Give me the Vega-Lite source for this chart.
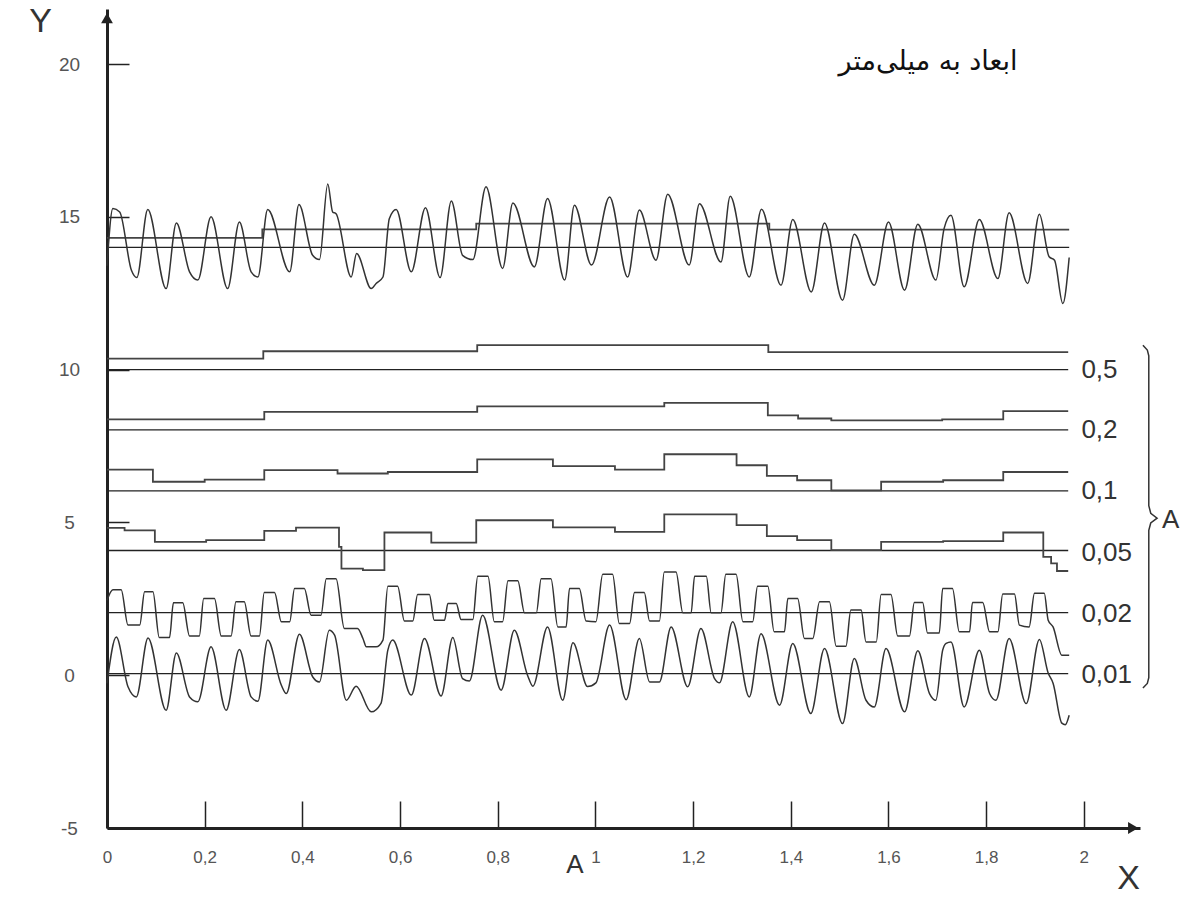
{
  "$schema": "https://vega.github.io/schema/vega-lite/v6.json",
  "width": 1033,
  "height": 819,
  "autosize": {"type": "none"},
  "padding": {"left": 107, "top": 9, "right": 50, "bottom": 84},
  "background": "white",
  "config": {"view": {"stroke": null}, "font": "Liberation Sans"},
  "datasets": {
    "refs": [
      {"s": "r0", "x": 0, "y": 14.0}, {"s": "r0", "x": 1.97, "y": 14.0},
      {"s": "r1", "x": 0, "y": 10.0}, {"s": "r1", "x": 1.968, "y": 10.0},
      {"s": "r2", "x": 0, "y": 8.03}, {"s": "r2", "x": 1.968, "y": 8.03},
      {"s": "r3", "x": 0, "y": 6.03}, {"s": "r3", "x": 1.968, "y": 6.03},
      {"s": "r4", "x": 0, "y": 4.08}, {"s": "r4", "x": 1.968, "y": 4.08},
      {"s": "r5", "x": 0, "y": 2.05}, {"s": "r5", "x": 1.968, "y": 2.05},
      {"s": "r6", "x": 0, "y": 0.05}, {"s": "r6", "x": 1.968, "y": 0.05}
    ],
    "steps": [
      {"s": "t", "x": 0, "y": 14.31}, {"s": "t", "x": 0.318, "y": 14.59}, {"s": "t", "x": 0.756, "y": 14.78}, {"s": "t", "x": 1.356, "y": 14.58}, {"s": "t", "x": 1.97, "y": 14.58},
      {"s": "p5", "x": 0, "y": 10.36}, {"s": "p5", "x": 0.32, "y": 10.6}, {"s": "p5", "x": 0.758, "y": 10.8}, {"s": "p5", "x": 1.354, "y": 10.57}, {"s": "p5", "x": 1.968, "y": 10.57},
      {"s": "p2", "x": 0, "y": 8.37}, {"s": "p2", "x": 0.322, "y": 8.62}, {"s": "p2", "x": 0.758, "y": 8.8}, {"s": "p2", "x": 1.141, "y": 8.91}, {"s": "p2", "x": 1.353, "y": 8.5}, {"s": "p2", "x": 1.415, "y": 8.4}, {"s": "p2", "x": 1.483, "y": 8.34}, {"s": "p2", "x": 1.71, "y": 8.37}, {"s": "p2", "x": 1.835, "y": 8.64}, {"s": "p2", "x": 1.968, "y": 8.64},
      {"s": "p1", "x": 0, "y": 6.73}, {"s": "p1", "x": 0.094, "y": 6.33}, {"s": "p1", "x": 0.2, "y": 6.4}, {"s": "p1", "x": 0.322, "y": 6.71}, {"s": "p1", "x": 0.472, "y": 6.6}, {"s": "p1", "x": 0.575, "y": 6.65}, {"s": "p1", "x": 0.758, "y": 7.06}, {"s": "p1", "x": 0.913, "y": 6.84}, {"s": "p1", "x": 1.04, "y": 6.73}, {"s": "p1", "x": 1.141, "y": 7.23}, {"s": "p1", "x": 1.289, "y": 6.87}, {"s": "p1", "x": 1.351, "y": 6.52}, {"s": "p1", "x": 1.413, "y": 6.38}, {"s": "p1", "x": 1.483, "y": 6.05}, {"s": "p1", "x": 1.585, "y": 6.33}, {"s": "p1", "x": 1.712, "y": 6.38}, {"s": "p1", "x": 1.835, "y": 6.65}, {"s": "p1", "x": 1.968, "y": 6.65},
      {"s": "p05", "x": 0, "y": 4.82}, {"s": "p05", "x": 0.036, "y": 4.74}, {"s": "p05", "x": 0.098, "y": 4.36}, {"s": "p05", "x": 0.203, "y": 4.42}, {"s": "p05", "x": 0.322, "y": 4.72}, {"s": "p05", "x": 0.387, "y": 4.83}, {"s": "p05", "x": 0.475, "y": 4.2}, {"s": "p05", "x": 0.48, "y": 3.49}, {"s": "p05", "x": 0.524, "y": 3.44}, {"s": "p05", "x": 0.568, "y": 4.67}, {"s": "p05", "x": 0.664, "y": 4.34}, {"s": "p05", "x": 0.756, "y": 5.07}, {"s": "p05", "x": 0.913, "y": 4.84}, {"s": "p05", "x": 1.04, "y": 4.69}, {"s": "p05", "x": 1.141, "y": 5.26}, {"s": "p05", "x": 1.289, "y": 4.91}, {"s": "p05", "x": 1.351, "y": 4.55}, {"s": "p05", "x": 1.413, "y": 4.42}, {"s": "p05", "x": 1.483, "y": 4.09}, {"s": "p05", "x": 1.585, "y": 4.36}, {"s": "p05", "x": 1.712, "y": 4.39}, {"s": "p05", "x": 1.835, "y": 4.67}, {"s": "p05", "x": 1.917, "y": 3.87}, {"s": "p05", "x": 1.933, "y": 3.66}, {"s": "p05", "x": 1.945, "y": 3.41}, {"s": "p05", "x": 1.968, "y": 3.41}
    ],
    "waves": [
      {"s": "raw", "x": 0.0, "y": 13.4}, {"s": "raw", "x": 0.012, "y": 15.27}, {"s": "raw", "x": 0.026, "y": 15.16}, {"s": "raw", "x": 0.05, "y": 13.25}, {"s": "raw", "x": 0.061, "y": 13.01}, {"s": "raw", "x": 0.0835, "y": 15.24}, {"s": "raw", "x": 0.121, "y": 12.65}, {"s": "raw", "x": 0.142, "y": 14.8}, {"s": "raw", "x": 0.169, "y": 13.2}, {"s": "raw", "x": 0.186, "y": 12.93}, {"s": "raw", "x": 0.213, "y": 15.0}, {"s": "raw", "x": 0.247, "y": 12.65}, {"s": "raw", "x": 0.271, "y": 14.83}, {"s": "raw", "x": 0.295, "y": 13.2}, {"s": "raw", "x": 0.309, "y": 13.03}, {"s": "raw", "x": 0.329, "y": 15.24}, {"s": "raw", "x": 0.374, "y": 13.2}, {"s": "raw", "x": 0.393, "y": 15.4}, {"s": "raw", "x": 0.421, "y": 13.74}, {"s": "raw", "x": 0.435, "y": 13.6}, {"s": "raw", "x": 0.452, "y": 16.07}, {"s": "raw", "x": 0.462, "y": 15.16}, {"s": "raw", "x": 0.469, "y": 15.1}, {"s": "raw", "x": 0.5, "y": 13.03}, {"s": "raw", "x": 0.511, "y": 13.8}, {"s": "raw", "x": 0.541, "y": 12.65}, {"s": "raw", "x": 0.551, "y": 12.82}, {"s": "raw", "x": 0.565, "y": 13.03}, {"s": "raw", "x": 0.578, "y": 14.94}, {"s": "raw", "x": 0.592, "y": 15.24}, {"s": "raw", "x": 0.623, "y": 13.2}, {"s": "raw", "x": 0.652, "y": 15.3}, {"s": "raw", "x": 0.682, "y": 13.01}, {"s": "raw", "x": 0.705, "y": 15.52}, {"s": "raw", "x": 0.728, "y": 13.74}, {"s": "raw", "x": 0.749, "y": 13.6}, {"s": "raw", "x": 0.776, "y": 15.98}, {"s": "raw", "x": 0.81, "y": 13.31}, {"s": "raw", "x": 0.831, "y": 15.45}, {"s": "raw", "x": 0.875, "y": 13.36}, {"s": "raw", "x": 0.902, "y": 15.6}, {"s": "raw", "x": 0.937, "y": 12.93}, {"s": "raw", "x": 0.957, "y": 15.38}, {"s": "raw", "x": 0.992, "y": 13.42}, {"s": "raw", "x": 1.029, "y": 15.65}, {"s": "raw", "x": 1.066, "y": 13.03}, {"s": "raw", "x": 1.09, "y": 15.22}, {"s": "raw", "x": 1.124, "y": 13.58}, {"s": "raw", "x": 1.148, "y": 15.74}, {"s": "raw", "x": 1.192, "y": 13.42}, {"s": "raw", "x": 1.213, "y": 15.43}, {"s": "raw", "x": 1.257, "y": 13.52}, {"s": "raw", "x": 1.276, "y": 15.67}, {"s": "raw", "x": 1.315, "y": 13.03}, {"s": "raw", "x": 1.34, "y": 15.25}, {"s": "raw", "x": 1.38, "y": 12.76}, {"s": "raw", "x": 1.404, "y": 14.91}, {"s": "raw", "x": 1.442, "y": 12.54}, {"s": "raw", "x": 1.469, "y": 14.8}, {"s": "raw", "x": 1.506, "y": 12.27}, {"s": "raw", "x": 1.53, "y": 14.43}, {"s": "raw", "x": 1.571, "y": 12.76}, {"s": "raw", "x": 1.6, "y": 14.83}, {"s": "raw", "x": 1.633, "y": 12.6}, {"s": "raw", "x": 1.66, "y": 14.76}, {"s": "raw", "x": 1.697, "y": 12.93}, {"s": "raw", "x": 1.714, "y": 14.62}, {"s": "raw", "x": 1.728, "y": 15.05}, {"s": "raw", "x": 1.755, "y": 12.71}, {"s": "raw", "x": 1.786, "y": 14.91}, {"s": "raw", "x": 1.824, "y": 12.98}, {"s": "raw", "x": 1.847, "y": 15.13}, {"s": "raw", "x": 1.885, "y": 12.82}, {"s": "raw", "x": 1.909, "y": 15.08}, {"s": "raw", "x": 1.929, "y": 13.69}, {"s": "raw", "x": 1.94, "y": 13.58}, {"s": "raw", "x": 1.957, "y": 12.16}, {"s": "raw", "x": 1.97, "y": 13.67},
      {"s": "f001", "x": 0.0, "y": -0.27}, {"s": "f001", "x": 0.019, "y": 1.25}, {"s": "f001", "x": 0.043, "y": -0.38}, {"s": "f001", "x": 0.06, "y": -0.71}, {"s": "f001", "x": 0.084, "y": 1.22}, {"s": "f001", "x": 0.121, "y": -1.15}, {"s": "f001", "x": 0.142, "y": 0.73}, {"s": "f001", "x": 0.169, "y": -0.71}, {"s": "f001", "x": 0.186, "y": -0.87}, {"s": "f001", "x": 0.213, "y": 0.93}, {"s": "f001", "x": 0.244, "y": -1.15}, {"s": "f001", "x": 0.271, "y": 0.84}, {"s": "f001", "x": 0.295, "y": -0.71}, {"s": "f001", "x": 0.309, "y": -0.85}, {"s": "f001", "x": 0.329, "y": 1.15}, {"s": "f001", "x": 0.357, "y": -0.33}, {"s": "f001", "x": 0.367, "y": -0.6}, {"s": "f001", "x": 0.394, "y": 1.34}, {"s": "f001", "x": 0.421, "y": -0.05}, {"s": "f001", "x": 0.435, "y": -0.22}, {"s": "f001", "x": 0.455, "y": 1.47}, {"s": "f001", "x": 0.466, "y": 1.31}, {"s": "f001", "x": 0.49, "y": -0.82}, {"s": "f001", "x": 0.51, "y": -0.36}, {"s": "f001", "x": 0.541, "y": -1.2}, {"s": "f001", "x": 0.561, "y": -0.92}, {"s": "f001", "x": 0.575, "y": 0.82}, {"s": "f001", "x": 0.585, "y": 1.15}, {"s": "f001", "x": 0.623, "y": -0.65}, {"s": "f001", "x": 0.65, "y": 1.2}, {"s": "f001", "x": 0.684, "y": -0.68}, {"s": "f001", "x": 0.708, "y": 1.23}, {"s": "f001", "x": 0.728, "y": -0.11}, {"s": "f001", "x": 0.742, "y": -0.19}, {"s": "f001", "x": 0.769, "y": 1.96}, {"s": "f001", "x": 0.807, "y": -0.49}, {"s": "f001", "x": 0.834, "y": 1.47}, {"s": "f001", "x": 0.861, "y": 0.0}, {"s": "f001", "x": 0.872, "y": -0.36}, {"s": "f001", "x": 0.902, "y": 1.58}, {"s": "f001", "x": 0.933, "y": -0.82}, {"s": "f001", "x": 0.954, "y": 1.06}, {"s": "f001", "x": 0.984, "y": -0.37}, {"s": "f001", "x": 1.001, "y": -0.25}, {"s": "f001", "x": 1.029, "y": 1.64}, {"s": "f001", "x": 1.063, "y": -0.8}, {"s": "f001", "x": 1.09, "y": 1.2}, {"s": "f001", "x": 1.111, "y": -0.22}, {"s": "f001", "x": 1.131, "y": -0.22}, {"s": "f001", "x": 1.155, "y": 1.58}, {"s": "f001", "x": 1.189, "y": -0.38}, {"s": "f001", "x": 1.216, "y": 1.53}, {"s": "f001", "x": 1.244, "y": -0.11}, {"s": "f001", "x": 1.254, "y": -0.25}, {"s": "f001", "x": 1.281, "y": 1.75}, {"s": "f001", "x": 1.315, "y": -0.71}, {"s": "f001", "x": 1.339, "y": 1.36}, {"s": "f001", "x": 1.377, "y": -0.98}, {"s": "f001", "x": 1.404, "y": 1.04}, {"s": "f001", "x": 1.441, "y": -1.25}, {"s": "f001", "x": 1.469, "y": 0.87}, {"s": "f001", "x": 1.506, "y": -1.58}, {"s": "f001", "x": 1.53, "y": 0.55}, {"s": "f001", "x": 1.554, "y": -0.82}, {"s": "f001", "x": 1.571, "y": -1.04}, {"s": "f001", "x": 1.595, "y": 0.87}, {"s": "f001", "x": 1.633, "y": -1.2}, {"s": "f001", "x": 1.66, "y": 0.8}, {"s": "f001", "x": 1.684, "y": -0.6}, {"s": "f001", "x": 1.697, "y": -0.82}, {"s": "f001", "x": 1.711, "y": 0.82}, {"s": "f001", "x": 1.718, "y": 1.04}, {"s": "f001", "x": 1.728, "y": 1.09}, {"s": "f001", "x": 1.755, "y": -1.04}, {"s": "f001", "x": 1.786, "y": 0.82}, {"s": "f001", "x": 1.807, "y": -0.6}, {"s": "f001", "x": 1.82, "y": -0.82}, {"s": "f001", "x": 1.847, "y": 1.2}, {"s": "f001", "x": 1.882, "y": -0.93}, {"s": "f001", "x": 1.909, "y": 1.17}, {"s": "f001", "x": 1.927, "y": 0.07}, {"s": "f001", "x": 1.937, "y": -0.26}, {"s": "f001", "x": 1.955, "y": -1.57}, {"s": "f001", "x": 1.962, "y": -1.62}, {"s": "f001", "x": 1.97, "y": -1.31},
      {"s": "f002", "x": 0.0, "y": 2.45}, {"s": "f002", "x": 0.012, "y": 2.8}, {"s": "f002", "x": 0.029, "y": 2.8}, {"s": "f002", "x": 0.043, "y": 1.64}, {"s": "f002", "x": 0.067, "y": 1.64}, {"s": "f002", "x": 0.077, "y": 2.73}, {"s": "f002", "x": 0.094, "y": 2.73}, {"s": "f002", "x": 0.107, "y": 1.23}, {"s": "f002", "x": 0.128, "y": 1.23}, {"s": "f002", "x": 0.136, "y": 2.37}, {"s": "f002", "x": 0.155, "y": 2.37}, {"s": "f002", "x": 0.169, "y": 1.28}, {"s": "f002", "x": 0.189, "y": 1.28}, {"s": "f002", "x": 0.198, "y": 2.51}, {"s": "f002", "x": 0.22, "y": 2.51}, {"s": "f002", "x": 0.234, "y": 1.28}, {"s": "f002", "x": 0.254, "y": 1.28}, {"s": "f002", "x": 0.264, "y": 2.4}, {"s": "f002", "x": 0.281, "y": 2.4}, {"s": "f002", "x": 0.295, "y": 1.28}, {"s": "f002", "x": 0.312, "y": 1.28}, {"s": "f002", "x": 0.322, "y": 2.71}, {"s": "f002", "x": 0.343, "y": 2.71}, {"s": "f002", "x": 0.357, "y": 1.75}, {"s": "f002", "x": 0.374, "y": 1.75}, {"s": "f002", "x": 0.384, "y": 2.84}, {"s": "f002", "x": 0.404, "y": 2.84}, {"s": "f002", "x": 0.418, "y": 1.96}, {"s": "f002", "x": 0.438, "y": 1.96}, {"s": "f002", "x": 0.449, "y": 3.16}, {"s": "f002", "x": 0.469, "y": 3.16}, {"s": "f002", "x": 0.486, "y": 1.53}, {"s": "f002", "x": 0.513, "y": 1.53}, {"s": "f002", "x": 0.524, "y": 1.2}, {"s": "f002", "x": 0.531, "y": 0.93}, {"s": "f002", "x": 0.551, "y": 0.93}, {"s": "f002", "x": 0.565, "y": 1.15}, {"s": "f002", "x": 0.575, "y": 2.91}, {"s": "f002", "x": 0.595, "y": 2.91}, {"s": "f002", "x": 0.609, "y": 1.77}, {"s": "f002", "x": 0.626, "y": 1.77}, {"s": "f002", "x": 0.636, "y": 2.64}, {"s": "f002", "x": 0.66, "y": 2.64}, {"s": "f002", "x": 0.67, "y": 1.8}, {"s": "f002", "x": 0.691, "y": 1.8}, {"s": "f002", "x": 0.698, "y": 2.35}, {"s": "f002", "x": 0.715, "y": 2.35}, {"s": "f002", "x": 0.725, "y": 1.82}, {"s": "f002", "x": 0.749, "y": 1.82}, {"s": "f002", "x": 0.759, "y": 3.24}, {"s": "f002", "x": 0.78, "y": 3.24}, {"s": "f002", "x": 0.793, "y": 1.75}, {"s": "f002", "x": 0.81, "y": 1.75}, {"s": "f002", "x": 0.821, "y": 3.09}, {"s": "f002", "x": 0.841, "y": 3.09}, {"s": "f002", "x": 0.855, "y": 2.04}, {"s": "f002", "x": 0.879, "y": 2.04}, {"s": "f002", "x": 0.889, "y": 3.16}, {"s": "f002", "x": 0.909, "y": 3.16}, {"s": "f002", "x": 0.923, "y": 1.58}, {"s": "f002", "x": 0.94, "y": 1.58}, {"s": "f002", "x": 0.947, "y": 2.84}, {"s": "f002", "x": 0.967, "y": 2.84}, {"s": "f002", "x": 0.981, "y": 1.77}, {"s": "f002", "x": 1.001, "y": 1.75}, {"s": "f002", "x": 1.015, "y": 3.3}, {"s": "f002", "x": 1.035, "y": 3.3}, {"s": "f002", "x": 1.049, "y": 1.69}, {"s": "f002", "x": 1.07, "y": 1.69}, {"s": "f002", "x": 1.08, "y": 2.71}, {"s": "f002", "x": 1.1, "y": 2.71}, {"s": "f002", "x": 1.111, "y": 1.77}, {"s": "f002", "x": 1.131, "y": 1.77}, {"s": "f002", "x": 1.141, "y": 3.38}, {"s": "f002", "x": 1.165, "y": 3.38}, {"s": "f002", "x": 1.179, "y": 2.04}, {"s": "f002", "x": 1.196, "y": 2.04}, {"s": "f002", "x": 1.203, "y": 3.24}, {"s": "f002", "x": 1.227, "y": 3.24}, {"s": "f002", "x": 1.237, "y": 2.04}, {"s": "f002", "x": 1.257, "y": 2.04}, {"s": "f002", "x": 1.267, "y": 3.3}, {"s": "f002", "x": 1.288, "y": 3.3}, {"s": "f002", "x": 1.302, "y": 1.75}, {"s": "f002", "x": 1.322, "y": 1.75}, {"s": "f002", "x": 1.332, "y": 2.91}, {"s": "f002", "x": 1.353, "y": 2.91}, {"s": "f002", "x": 1.366, "y": 1.42}, {"s": "f002", "x": 1.387, "y": 1.42}, {"s": "f002", "x": 1.394, "y": 2.51}, {"s": "f002", "x": 1.414, "y": 2.51}, {"s": "f002", "x": 1.428, "y": 1.2}, {"s": "f002", "x": 1.445, "y": 1.2}, {"s": "f002", "x": 1.459, "y": 2.4}, {"s": "f002", "x": 1.479, "y": 2.4}, {"s": "f002", "x": 1.493, "y": 0.95}, {"s": "f002", "x": 1.513, "y": 0.95}, {"s": "f002", "x": 1.523, "y": 2.13}, {"s": "f002", "x": 1.544, "y": 2.13}, {"s": "f002", "x": 1.554, "y": 1.09}, {"s": "f002", "x": 1.575, "y": 1.09}, {"s": "f002", "x": 1.585, "y": 2.64}, {"s": "f002", "x": 1.605, "y": 2.64}, {"s": "f002", "x": 1.619, "y": 1.28}, {"s": "f002", "x": 1.643, "y": 1.28}, {"s": "f002", "x": 1.653, "y": 2.38}, {"s": "f002", "x": 1.67, "y": 2.38}, {"s": "f002", "x": 1.68, "y": 1.38}, {"s": "f002", "x": 1.704, "y": 1.38}, {"s": "f002", "x": 1.711, "y": 2.84}, {"s": "f002", "x": 1.731, "y": 2.84}, {"s": "f002", "x": 1.745, "y": 1.42}, {"s": "f002", "x": 1.766, "y": 1.42}, {"s": "f002", "x": 1.772, "y": 2.38}, {"s": "f002", "x": 1.793, "y": 2.38}, {"s": "f002", "x": 1.807, "y": 1.42}, {"s": "f002", "x": 1.824, "y": 1.42}, {"s": "f002", "x": 1.834, "y": 2.66}, {"s": "f002", "x": 1.858, "y": 2.66}, {"s": "f002", "x": 1.868, "y": 1.64}, {"s": "f002", "x": 1.888, "y": 1.58}, {"s": "f002", "x": 1.899, "y": 2.68}, {"s": "f002", "x": 1.919, "y": 2.68}, {"s": "f002", "x": 1.927, "y": 1.8}, {"s": "f002", "x": 1.937, "y": 1.58}, {"s": "f002", "x": 1.955, "y": 0.65}, {"s": "f002", "x": 1.97, "y": 0.65}
    ],
    "brace": [
      {"i": 0, "x": 2.121, "y": 10.8}, {"i": 1, "x": 2.13, "y": 10.64}, {"i": 2, "x": 2.133, "y": 10.45}, {"i": 3, "x": 2.133, "y": 5.55}, {"i": 4, "x": 2.137, "y": 5.3}, {"i": 5, "x": 2.15, "y": 5.14}, {"i": 6, "x": 2.137, "y": 4.98}, {"i": 7, "x": 2.133, "y": 4.74}, {"i": 8, "x": 2.133, "y": -0.08}, {"i": 9, "x": 2.13, "y": -0.27}, {"i": 10, "x": 2.121, "y": -0.42}
    ],
    "arrows": [{"d": "x", "x": 2.101, "y": -5}, {"d": "y", "x": 0, "y": 21.5}],
    "levels": [
      {"x": 1.995, "y": 9.98, "t": "0,5"}, {"x": 1.995, "y": 8.02, "t": "0,2"}, {"x": 1.995, "y": 6.02, "t": "0,1"}, {"x": 1.995, "y": 4.0, "t": "0,05"}, {"x": 1.995, "y": 2.0, "t": "0,02"}, {"x": 1.995, "y": 0.0, "t": "0,01"}
    ],
    "letters": [{"x": 2.178, "y": 5.08, "t": "A"}, {"x": 0.958, "y": -6.21, "t": "A"}],
    "fa": [{"x": 1.681, "y": 20.07, "t": "ابعاد به میلی‌متر"}]
  },
  "encoding": {
    "x": {
      "field": "x", "type": "quantitative",
      "scale": {"domain": [0, 2.115], "nice": false, "zero": false},
      "axis": {
        "values": [0, 0.2, 0.4, 0.6, 0.8, 1, 1.2, 1.4, 1.6, 1.8, 2],
        "format": "~g", "labelExpr": "replace(datum.label, '.', ',')",
        "grid": false, "domainWidth": 3, "domainColor": "#222",
        "tickSize": -27, "tickWidth": 1.5, "tickColor": "#222",
        "labelPadding": 56, "labelBaseline": "middle", "labelFontSize": 17, "labelColor": "#555",
        "labelFont": "Liberation Sans", "labelFlush": false, "labelOverlap": false,
        "title": "X", "titleFont": "Liberation Sans", "titleFontSize": 34, "titleFontWeight": "normal", "titleColor": "#333",
        "titleX": 1021, "titleY": 50, "titleAlign": "center", "titleBaseline": "middle"
      }
    },
    "y": {
      "field": "y", "type": "quantitative",
      "scale": {"domain": [-5, 21.8], "nice": false, "zero": false},
      "axis": {
        "values": [-5, 0, 5, 10, 15, 20],
        "labelExpr": "datum.value < 0 ? '-' + abs(datum.value) : datum.label",
        "grid": false, "domainWidth": 3, "domainColor": "#222",
        "tickSize": -22, "tickWidth": 1.5, "tickColor": "#222",
        "labelPadding": 60, "labelAlign": "center", "labelBaseline": "middle", "labelFontSize": 19, "labelColor": "#555",
        "labelFont": "Liberation Sans", "labelFlush": false, "labelOverlap": false,
        "title": "Y", "titleFont": "Liberation Sans", "titleFontSize": 34, "titleFontWeight": "normal", "titleColor": "#333",
        "titleAngle": 0, "titleX": -67, "titleY": 12, "titleAlign": "center", "titleBaseline": "middle"
      }
    }
  },
  "layer": [
    {
      "data": {"name": "refs"},
      "mark": {"type": "line", "color": "#222", "strokeWidth": 1.3},
      "encoding": {"detail": {"field": "s", "type": "nominal"}}
    },
    {
      "data": {"name": "steps"},
      "mark": {"type": "line", "interpolate": "step-after", "color": "#444", "strokeWidth": 1.8},
      "encoding": {"detail": {"field": "s", "type": "nominal"}}
    },
    {
      "data": {"name": "waves"},
      "mark": {"type": "line", "interpolate": "monotone", "color": "#333", "strokeWidth": 1.5},
      "encoding": {"detail": {"field": "s", "type": "nominal"}}
    },
    {
      "data": {"name": "brace"},
      "mark": {"type": "line", "color": "#333", "strokeWidth": 1.5},
      "encoding": {"order": {"field": "i", "type": "quantitative"}}
    },
    {
      "data": {"name": "arrows"},
      "mark": {"type": "point", "filled": true, "color": "#222", "opacity": 1, "size": 140},
      "encoding": {"shape": {"field": "d", "type": "nominal", "scale": {"domain": ["x", "y"], "range": ["triangle-right", "triangle-up"]}, "legend": null}}
    },
    {
      "data": {"name": "levels"},
      "mark": {"type": "text", "align": "left", "baseline": "middle", "fontSize": 26, "color": "#333", "font": "Liberation Sans"},
      "encoding": {"text": {"field": "t"}}
    },
    {
      "data": {"name": "letters"},
      "mark": {"type": "text", "align": "center", "baseline": "middle", "fontSize": 26, "color": "#333", "font": "Liberation Sans"},
      "encoding": {"text": {"field": "t"}}
    },
    {
      "data": {"name": "fa"},
      "mark": {"type": "text", "align": "center", "baseline": "middle", "fontSize": 27, "color": "#111", "font": "DejaVu Sans"},
      "encoding": {"text": {"field": "t"}}
    }
  ]
}
